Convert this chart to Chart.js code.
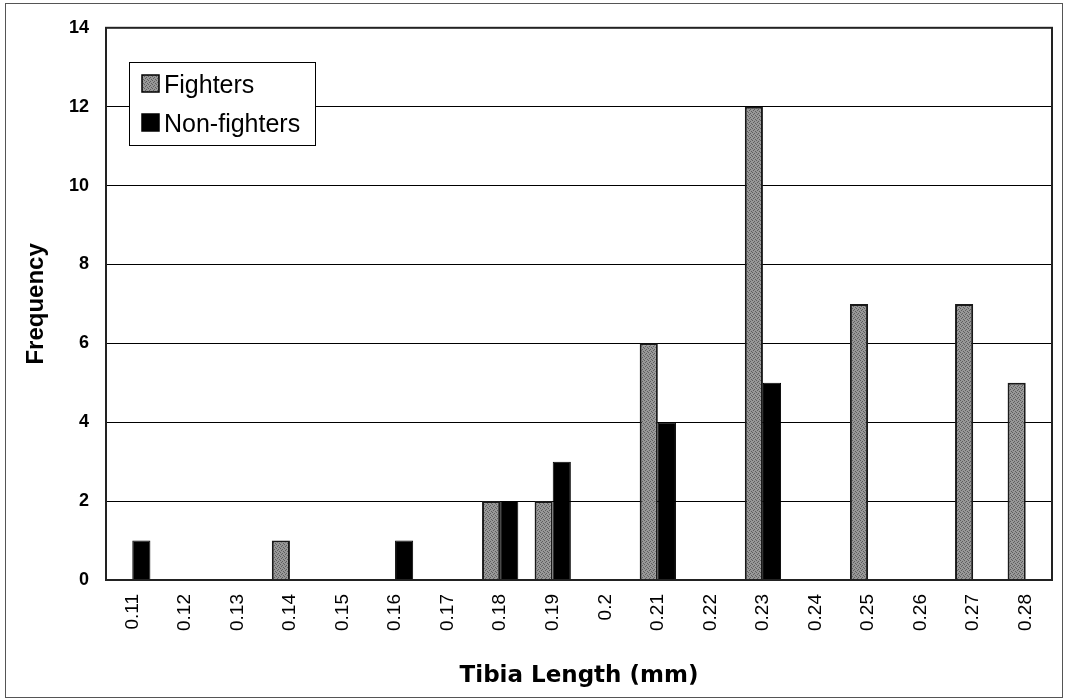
<!DOCTYPE html>
<html>
<head>
<meta charset="utf-8">
<script src="https://cdn.jsdelivr.net/npm/chart.js@4/dist/chart.umd.min.js"></script>
<style>
  html, body { margin: 0; padding: 0; background: #fff; }
  #wrap { width: 1066px; height: 699px; }
</style>
</head>
<body>
<div id="wrap"><canvas id="myChart" width="1066" height="699"></canvas></div>
<script>
// tibia length bins and counts
var lengths = ['0.11','0.12','0.13','0.14','0.15','0.16','0.17','0.18','0.19','0.2',
               '0.21','0.22','0.23','0.24','0.25','0.26','0.27','0.28'];
var fighters    = [0,0,0,1,0,0,0,2,2,0,6,0,12,0,7,0,7,5];
var nonFighters = [1,0,0,0,0,1,0,2,3,0,4,0,5,0,0,0,0,0];
var yMax = 14, yStep = 2;

var sans = '"Liberation Sans", Arial, sans-serif';
var canvas = document.getElementById('myChart');
var ctx = canvas.getContext('2d');

// stippled grey like the old excel print
function grainPattern(){
  var c = document.createElement('canvas');
  c.width = 4; c.height = 4;
  var g = c.getContext('2d');
  g.fillStyle = '#989898';
  g.fillRect(0, 0, 4, 4);
  g.fillStyle = '#5e5e5e';
  g.fillRect(0, 0, 1, 1); g.fillRect(2, 1, 1, 1);
  g.fillRect(1, 2, 1, 1); g.fillRect(3, 3, 1, 1);
  return ctx.createPattern(c, 'repeat');
}
var greyFill = grainPattern();

var frame = {
  id: 'frame',
  beforeDraw: function(chart){
    var c = chart.ctx;
    c.save();
    c.fillStyle = '#fff';
    c.fillRect(0, 0, chart.width, chart.height);
    c.strokeStyle = '#555';
    c.lineWidth = 1;
    c.strokeRect(5.5, 3.5, 1057, 694);
    c.restore();
  },
  afterDatasetsDraw: function(chart){
    var c = chart.ctx, a = chart.chartArea;
    c.save();
    c.strokeStyle = '#222';
    c.lineWidth = 2;
    c.strokeRect(a.left, a.top, a.right - a.left, a.bottom - a.top);

    // legend box inside the plot
    var x = 129, y = 62, w = 186, h = 83;
    c.fillStyle = '#fff';
    c.fillRect(x, y, w, h);
    c.strokeStyle = '#000';
    c.lineWidth = 1;
    c.strokeRect(x + 0.5, y + 0.5, w, h);
    c.font = '25px ' + sans;
    c.textBaseline = 'middle';
    chart.data.datasets.forEach(function(ds, i){
      var cy = y + 21 + i * 39;
      c.fillStyle = ds.backgroundColor;
      c.fillRect(x + 13, cy - 8, 17, 17);
      c.strokeStyle = '#000';
      c.lineWidth = 1.5;
      c.strokeRect(x + 13, cy - 8, 17, 17);
      c.fillStyle = '#000';
      c.fillText(ds.label, x + 35, cy + 3);
    });
    c.restore();
  }
};

new Chart(ctx, {
  type: 'bar',
  data: {
    labels: lengths,
    datasets: [
      { label: 'Fighters', data: fighters, backgroundColor: greyFill,
        borderColor: '#1a1a1a', borderWidth: 2 },
      { label: 'Non-fighters', data: nonFighters, backgroundColor: '#000',
        borderColor: '#000', borderWidth: 1 }
    ]
  },
  options: {
    responsive: false,
    animation: false,
    devicePixelRatio: 1,
    layout: { padding: { left: 5, top: 23, right: 14, bottom: 9 } },
    datasets: { bar: { categoryPercentage: 0.69, barPercentage: 1.0 } },
    plugins: { legend: { display: false }, tooltip: { enabled: false } },
    scales: {
      x: {
        grid: { display: false, drawTicks: false },
        border: { display: false },
        ticks: {
          color: '#000', minRotation: 90, maxRotation: 90, padding: 14,
          font: { family: sans, size: 19 }
        },
        title: {
          display: true, text: 'Tibia Length (mm)', color: '#000',
          padding: { top: 8, bottom: 0 },
          font: { family: '"DejaVu Sans", sans-serif', size: 23, weight: 'bold', lineHeight: 1.2 }
        },
        afterFit: function(s){ s.height = 110; }
      },
      y: {
        min: 0, max: yMax,
        grid: { color: '#000', lineWidth: 1, drawTicks: false },
        border: { display: false },
        ticks: {
          stepSize: yStep, color: '#000', padding: 17,
          font: { family: sans, size: 18, weight: 'bold' }
        },
        title: {
          display: true, text: 'Frequency', color: '#000',
          padding: { top: 17, bottom: 0 },
          font: { family: sans, size: 24, weight: 'bold', lineHeight: 1.2 }
        },
        afterFit: function(s){ s.width = 101; }
      }
    }
  },
  plugins: [frame]
});
</script>
</body>
</html>
